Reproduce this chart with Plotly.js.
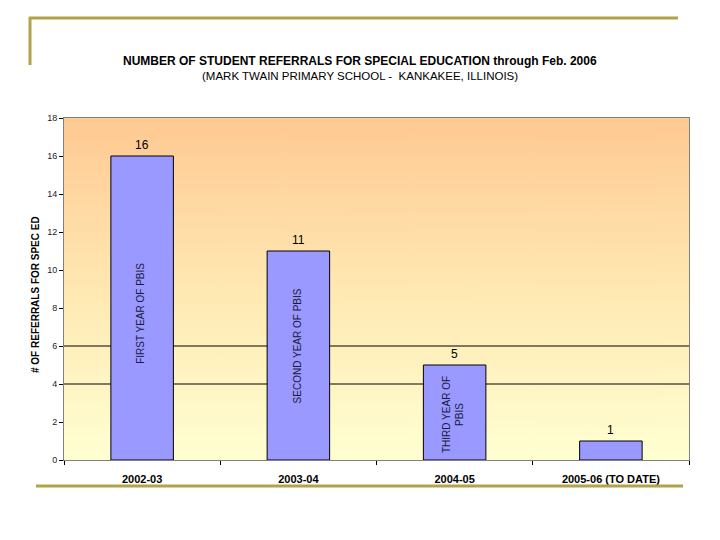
<!DOCTYPE html>
<html>
<head>
<meta charset="utf-8">
<script src="https://cdn.plot.ly/plotly-3.0.1.min.js"></script>
<style>html,body{margin:0;padding:0;background:#fff;}#chart{width:720px;height:540px;}</style>
</head>
<body>
<div id="chart"></div>
<script>
// ---- data ----
const categories = ['2002-03', '2003-04', '2004-05', '2005-06 (TO DATE)'];
const referrals = [16, 11, 5, 1];
const barNotes = ['FIRST YEAR OF PBIS', 'SECOND YEAR OF PBIS', 'THIRD YEAR OF<br>PBIS', ''];
const yTicks = [0, 2, 4, 6, 8, 10, 12, 14, 16, 18];
const titleText = 'NUMBER OF STUDENT REFERRALS FOR SPECIAL EDUCATION through Feb. 2006';
const subtitleText = '(MARK TWAIN PRIMARY SCHOOL -  KANKAKEE, ILLINOIS)';
const yTitleText = '# OF REFERRALS FOR SPEC ED';

// ---- layout geometry (pixels) ----
const W = 720, H = 540;
const L = 64, R = 689, T = 118, B = 460;
const px = x => (x - L) / (R - L);
const py = y => (B - y) / (B - T);
const FONT = 'Liberation Sans, Arial, sans-serif';
const OLIVE = '#B3A24A';

// gradient background image
function gradientURL() {
  const c = document.createElement('canvas');
  c.width = 10; c.height = 200;
  const g = c.getContext('2d');
  const gr = g.createLinearGradient(0, 0, 0, 200);
  gr.addColorStop(0, '#FFC993');
  gr.addColorStop(0.55, '#FFEBB5');
  gr.addColorStop(1, '#FFFFD2');
  g.fillStyle = gr; g.fillRect(0, 0, 10, 200);
  return c.toDataURL();
}

// note vertical centres (style, not data)
const noteCentres = [7.7, 6.0, 2.4, 0];

const annotations = [];
annotations.push({xref: 'paper', yref: 'paper', x: px(360), y: py(61), text: '<b>' + titleText + '</b>',
  showarrow: false, xanchor: 'center', yanchor: 'middle', font: {family: FONT, size: 12, color: '#000'}});
annotations.push({xref: 'paper', yref: 'paper', x: px(360), y: py(76), text: subtitleText,
  showarrow: false, xanchor: 'center', yanchor: 'middle', font: {family: FONT, size: 11.5, color: '#000'}});
annotations.push({xref: 'paper', yref: 'paper', x: px(35), y: py(295), text: '<b>' + yTitleText + '</b>',
  textangle: -90, showarrow: false, xanchor: 'center', yanchor: 'middle', font: {family: FONT, size: 10, color: '#000'}});

categories.forEach((c, i) => {
  annotations.push({x: c, y: referrals[i], xref: 'x', yref: 'y', text: String(referrals[i]),
    showarrow: false, yanchor: 'bottom', yshift: 2, font: {family: FONT, size: 12, color: '#000'}});
  if (barNotes[i]) {
    annotations.push({x: c, y: noteCentres[i], xref: 'x', yref: 'y', text: barNotes[i],
      textangle: -90, showarrow: false, xanchor: 'center', yanchor: 'middle', xshift: -1,
      font: {family: FONT, size: 10, color: '#1a1a40'}});
  }
});

const shapes = [
  {type: 'line', xref: 'paper', yref: 'y', x0: 0, x1: 1, y0: 4, y1: 4, layer: 'below', line: {color: '#000', width: 1}},
  {type: 'line', xref: 'paper', yref: 'y', x0: 0, x1: 1, y0: 6, y1: 6, layer: 'below', line: {color: '#000', width: 1}},
  // decorative olive frame lines
  {type: 'line', xref: 'paper', yref: 'paper', x0: px(29), x1: px(678), y0: py(18), y1: py(18), line: {color: OLIVE, width: 3}},
  {type: 'line', xref: 'paper', yref: 'paper', x0: px(30), x1: px(30), y0: py(17), y1: py(65), line: {color: OLIVE, width: 3}},
  {type: 'line', xref: 'paper', yref: 'paper', x0: px(36), x1: px(683), y0: py(486), y1: py(486), line: {color: OLIVE, width: 3}}
];

const trace = {
  type: 'bar', x: categories, y: referrals, width: 0.4,
  marker: {color: '#9999FF', line: {color: '#000', width: 1}},
  hoverinfo: 'x+y'
};

const layout = {
  width: W, height: H,
  margin: {l: L, r: W - R, t: T, b: H - B, pad: 0},
  paper_bgcolor: '#fff', plot_bgcolor: 'rgba(0,0,0,0)',
  showlegend: false,
  font: {family: FONT, color: '#000'},
  images: [{source: gradientURL(), xref: 'paper', yref: 'paper', x: 0, y: 1, sizex: 1, sizey: 1,
    sizing: 'stretch', xanchor: 'left', yanchor: 'top', layer: 'below'}],
  xaxis: {type: 'category', showline: true, linecolor: '#808080', linewidth: 1, mirror: true,
    ticks: 'outside', tickson: 'boundaries', ticklen: 4, tickcolor: '#000',
    ticklabelstandoff: 9,
    showgrid: false, zeroline: false, fixedrange: true,
    tickfont: {family: FONT, size: 11, color: '#000', weight: 'bold'}},
  yaxis: {range: [0, 18], tickvals: yTicks, ticktext: yTicks.map(String),
    showline: true, linecolor: '#808080', linewidth: 1, mirror: true,
    ticks: 'outside', ticklen: 4, tickcolor: '#000', showgrid: false, zeroline: false,
    fixedrange: true, tickfont: {family: FONT, size: 9, color: '#222'}},
  shapes: shapes,
  annotations: annotations
};

Plotly.newPlot('chart', [trace], layout, {displayModeBar: false, staticPlot: true});
</script>
</body>
</html>
